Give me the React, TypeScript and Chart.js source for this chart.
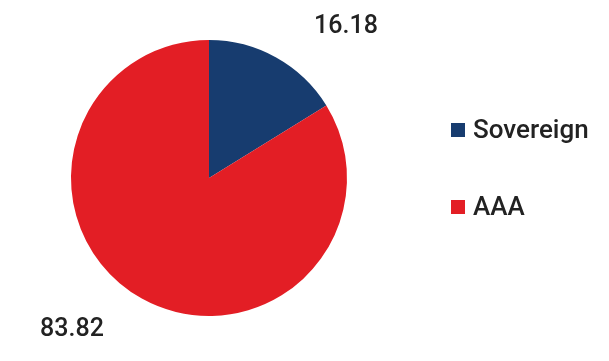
import React, { useEffect, useRef } from "react";
import { Chart, registerables } from "chart.js";

Chart.register(...registerables);

const categories = ["Sovereign", "AAA"];
const shares = [16.18, 83.82];
const sliceColors = ["#173c6f", "#e31e25"];

const FONT = "Roboto, 'Noto Sans', sans-serif";

// Value labels outside each slice, nudged clockwise from the slice middle.
const valueLabels = {
  id: "valueLabels",
  afterDatasetsDraw(chart: any) {
    const { ctx } = chart;
    const meta = chart.getDatasetMeta(0);
    ctx.save();
    ctx.font = `500 25px ${FONT}`;
    ctx.fillStyle = "#222222";
    ctx.textAlign = "center";
    ctx.textBaseline = "middle";
    meta.data.forEach((arc: any, i: number) => {
      const { x, y, startAngle, endAngle, outerRadius } = arc.getProps(
        ["x", "y", "startAngle", "endAngle", "outerRadius"],
        true
      );
      const mid = (startAngle + endAngle) / 2 + (13 * Math.PI) / 180;
      const r = outerRadius * 1.48;
      ctx.fillText(shares[i].toFixed(2), x + Math.cos(mid) * r, y + Math.sin(mid) * r);
    });
    ctx.restore();
  },
};

// Legend drawn as a right-hand column of square swatches.
const sideLegend = {
  id: "sideLegend",
  afterDraw(chart: any) {
    const { ctx } = chart;
    const boxX = 451;
    const firstY = 130;
    const rowGap = 77;
    const box = 14;
    ctx.save();
    ctx.font = `500 26px ${FONT}`;
    ctx.textBaseline = "middle";
    ctx.textAlign = "left";
    categories.forEach((name, i) => {
      const cy = firstY + i * rowGap;
      ctx.fillStyle = sliceColors[i];
      ctx.fillRect(boxX, cy - box / 2, box, box);
      ctx.fillStyle = "#222222";
      ctx.fillText(name, boxX + 22, cy + 1);
    });
    ctx.restore();
  },
};

export default function App() {
  const canvasRef = useRef<HTMLCanvasElement | null>(null);

  useEffect(() => {
    if (!canvasRef.current) return;
    const chart = new Chart(canvasRef.current, {
      type: "pie",
      data: {
        labels: categories,
        datasets: [
          {
            data: shares,
            backgroundColor: sliceColors,
            borderWidth: 0,
          },
        ],
      },
      options: {
        animation: false,
        responsive: false,
        layout: { padding: { left: 71, right: 262, top: 40, bottom: 45 } },
        plugins: {
          legend: { display: false },
          tooltip: { enabled: false },
        },
      },
      plugins: [valueLabels, sideLegend],
    });
    return () => chart.destroy();
  }, []);

  return (
    <div style={{ position: "fixed", left: 0, top: 0, width: 609, height: 361, background: "#ffffff" }}>
      <canvas ref={canvasRef} width={609} height={361} />
    </div>
  );
}
